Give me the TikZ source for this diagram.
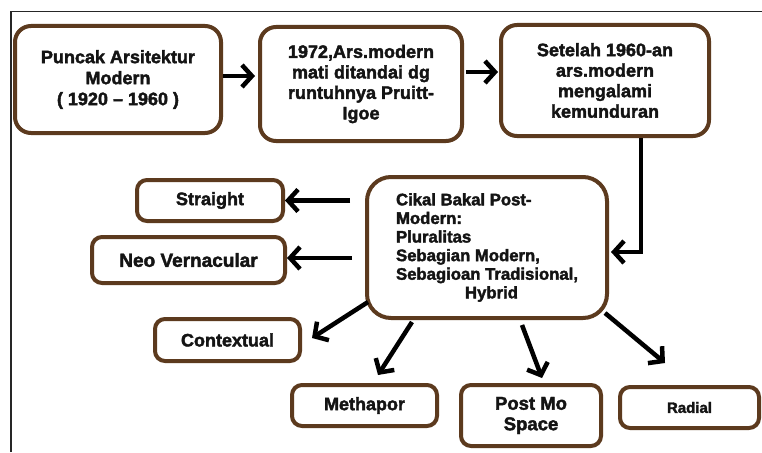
\documentclass[tikz,border=0pt]{standalone}
\usepackage{fontspec}
\setmainfont{Liberation Sans}[BoldFeatures={FakeBold=2.2}]
\usetikzlibrary{arrows.meta,calc}
\definecolor{boxbrown}{RGB}{92,58,30}
\definecolor{inkblack}{RGB}{20,20,20}
\begin{document}
\begin{tikzpicture}[x=1pt,y=-1pt,
  box/.style={draw=boxbrown,line width=4pt,rounded corners=16pt,inner sep=0pt,
    align=center,text=inkblack,font=\bfseries\fontsize{18}{21}\selectfont},
  arr/.style={draw=black,line width=4.5pt,-{Straight Barb[length=10pt,width=22pt,line width=4.5pt]}}]
\useasboundingbox (0,0) rectangle (762,452);
\fill[white] (0,0) rectangle (762,452);

% outer frame (top and left edges only)
\draw[line width=1.4pt,black!85] (11,452) -- (11,11.5) -- (762,11.5);

% top row
\node[box,minimum width=206pt,minimum height=107pt] (b1) at (118,79.5)
  {Puncak Arsitektur\\Modern\\( 1920 – 1960 )};
\node[box,minimum width=202pt,minimum height=114pt,font=\bfseries\fontsize{18}{20.5}\selectfont] (b2) at (361,84)
  {1972,Ars.modern\\mati ditandai dg\\runtuhnya Pruitt-\\Igoe};
\node[box,minimum width=208pt,minimum height=111pt,font=\bfseries\fontsize{18}{20.5}\selectfont] (b3) at (605,80.5)
  {Setelah 1960-an\\ars.modern\\mengalami\\kemunduran};

% central box
\node[box,rounded corners=24pt,minimum width=240pt,minimum height=141pt,align=left,
  font=\bfseries\fontsize{16.7}{18.6}\selectfont] (b4) at (487,247.5)
  {Cikal Bakal Post-\\Modern:\\Pluralitas\\Sebagian Modern,\\Sebagioan Tradisional,\\\hspace*{69pt}Hybrid};

% branches
\node[box,rounded corners=10pt,minimum width=146pt,minimum height=41pt] (straight) at (210,200.5) {Straight};
\node[box,rounded corners=10pt,minimum width=193pt,minimum height=46pt,font=\bfseries\fontsize{19}{21}\selectfont] (neo) at (188.5,260) {Neo Vernacular};
\node[box,rounded corners=10pt,minimum width=145pt,minimum height=42pt] (context) at (227.5,340) {Contextual};
\node[box,rounded corners=10pt,minimum width=145pt,minimum height=41pt] (metaphor) at (364.5,405.5) {Methapor};
\node[box,rounded corners=10pt,minimum width=140pt,minimum height=61pt,font=\bfseries\fontsize{18.5}{20.5}\selectfont] (postmo) at (531,415.5) {Post Mo\\Space};
\node[box,rounded corners=10pt,minimum width=139pt,minimum height=41pt,font=\bfseries\fontsize{15}{18}\selectfont] (radial) at (689.5,407.5) {Radial};

% connectors
\draw[arr] ($(b1.east)+(0,-3.5)$) -- ($(b2.west|-b1.east)+(-3,-3.5)$);
\draw[arr] ($(b2.east)+(2,-12)$) -- ($(b3.west|-b2.east)+(-1,-12)$);

\coordinate (bend) at (641,252);
\draw[arr] (b3.south -| bend) -- (bend) -- ($(b4.east |- bend)+(2,0)$);

\draw[arr,shorten <=15pt] (straight.east -| b4.west) -- (straight.east);
\draw[arr,shorten <=13pt] ($(neo.east -| b4.west)+(0,-2)$) -- ($(neo.east)+(0,-2)$);

\coordinate (ctxFrom) at (368,302);
\coordinate (ctxTo) at (312,338);
\draw[arr] (ctxFrom) -- (ctxTo);

\coordinate (metFrom) at (412,322);
\coordinate (metTo) at (378,375);
\draw[arr] (metFrom) -- (metTo);

\coordinate (pmFrom) at (522,325);
\coordinate (pmTo) at (542,378);
\draw[arr] (pmFrom) -- (pmTo);

\coordinate (radFrom) at (605,313);
\coordinate (radTo) at (665,363);
\draw[arr] (radFrom) -- (radTo);
\end{tikzpicture}
\end{document}
